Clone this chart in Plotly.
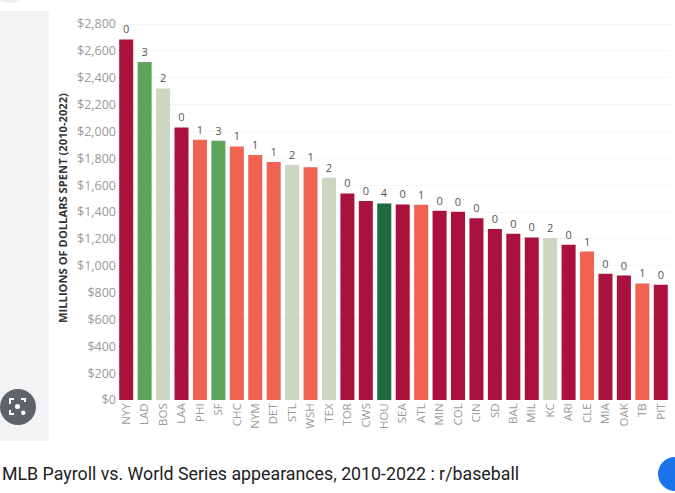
import plotly.graph_objects as go

teams = ["NYY", "LAD", "BOS", "LAA", "PHI", "SF", "CHC", "NYM", "DET", "STL", "WSH", "TEX",
         "TOR", "CWS", "HOU", "SEA", "ATL", "MIN", "COL", "CIN", "SD", "BAL", "MIL", "KC",
         "ARI", "CLE", "MIA", "OAK", "TB", "PIT"]
payroll = [2686, 2517, 2321, 2030, 1938, 1931, 1889, 1824, 1772, 1752, 1733, 1655,
           1539, 1482, 1464, 1457, 1454, 1410, 1402, 1353, 1273, 1238, 1211, 1206,
           1156, 1106, 940, 927, 868, 858]
ws_appearances = [0, 3, 2, 0, 1, 3, 1, 1, 1, 2, 1, 2,
                  0, 0, 4, 0, 1, 0, 0, 0, 0, 0, 0, 2,
                  0, 1, 0, 0, 1, 0]
ytick_vals = list(range(0, 2801, 200))
ytick_text = ["$" + format(v, ",") for v in ytick_vals]
caption = "MLB Payroll vs. World Series appearances, 2010-2022 : r/baseball"

color_map = {0: "#AA113D", 1: "#F06352", 2: "#CDD5C3", 3: "#5DA55A", 4: "#1E6B3D"}
colors = [color_map[w] for w in ws_appearances]

W, H = 675, 493
L, R, T, B = 117, 5, 12, 93
pw, ph = W - L - R, H - T - B


def px(x):
    return (x - L) / pw


def py(y):
    return (H - B - y) / ph


fig = go.Figure(go.Bar(
    x=teams, y=payroll, marker=dict(color=colors, line=dict(width=0)),
    text=[str(w) for w in ws_appearances], textposition="outside",
    textfont=dict(family="Open Sans", size=11, color="#555555"),
    cliponaxis=False, hoverinfo="skip",
))

shapes = [
    dict(type="rect", xref="paper", yref="paper", x0=px(0), x1=px(49), y0=py(441), y1=py(11),
         fillcolor="#F1F3F4", line=dict(width=0), layer="below"),
    dict(type="circle", xref="paper", yref="paper", x0=px(-8), x1=px(28), y0=py(3), y1=py(-33),
         fillcolor="#EEEEEE", line=dict(width=0), layer="below"),
    dict(type="circle", xref="paper", yref="paper", x0=px(0), x1=px(36), y0=py(425), y1=py(389),
         fillcolor="#5F6368", line=dict(width=0)),
    dict(type="circle", xref="paper", yref="paper", x0=px(658), x1=px(692), y0=py(491), y1=py(457),
         fillcolor="#1A73E8", line=dict(width=0)),
]
glyph = [
    ((10, 404), (10, 399), (14, 399)),
    ((21, 399), (25, 399), (25, 402)),
    ((10, 410), (10, 414), (14, 414)),
]
for pts in glyph:
    path = "M {} {} L {} {} L {} {}".format(px(pts[0][0]), py(pts[0][1]), px(pts[1][0]), py(pts[1][1]),
                                             px(pts[2][0]), py(pts[2][1]))
    shapes.append(dict(type="path", xref="paper", yref="paper", path=path,
                       line=dict(color="white", width=2)))
shapes.append(dict(type="circle", xref="paper", yref="paper", x0=px(15), x1=px(20), y0=py(409), y1=py(404),
                   fillcolor="white", line=dict(width=0)))
shapes.append(dict(type="circle", xref="paper", yref="paper", x0=px(21), x1=px(25.5), y0=py(415), y1=py(410.5),
                   fillcolor="white", line=dict(width=0)))

annotations = [
    dict(text="MILLIONS OF DOLLARS SPENT (2010-2022)", xref="paper", yref="paper",
         x=px(62), y=py(208), textangle=-90, showarrow=False,
         font=dict(family="Open Sans", size=11.2, color="#333333", weight="bold"),
         xanchor="center", yanchor="middle"),
    dict(text=caption, xref="paper", yref="paper", x=px(0), y=py(473), showarrow=False,
         font=dict(family="Roboto", size=17.8, color="#202124"), xanchor="left", yanchor="middle"),
]

fig.update_layout(
    width=W, height=H, margin=dict(l=L, r=R, t=T, b=B),
    paper_bgcolor="white", plot_bgcolor="white",
    bargap=0.24, showlegend=False,
    shapes=shapes, annotations=annotations,
    xaxis=dict(tickangle=-90, tickfont=dict(family="Open Sans", size=11.5, color="#999999"),
               showgrid=False, showline=False, ticks="", fixedrange=True),
    yaxis=dict(range=[0, 2890], tickvals=ytick_vals, ticktext=ytick_text,
               tickfont=dict(family="Open Sans", size=12.5, color="#999999"),
               showgrid=True, gridcolor="#F5F5F5", gridwidth=1, zeroline=False,
               showline=False, ticks=""),
)

fig.write_html("out.html", config={"displayModeBar": False},
               post_script="document.body.style.margin='0';document.body.style.overflow='hidden';")
